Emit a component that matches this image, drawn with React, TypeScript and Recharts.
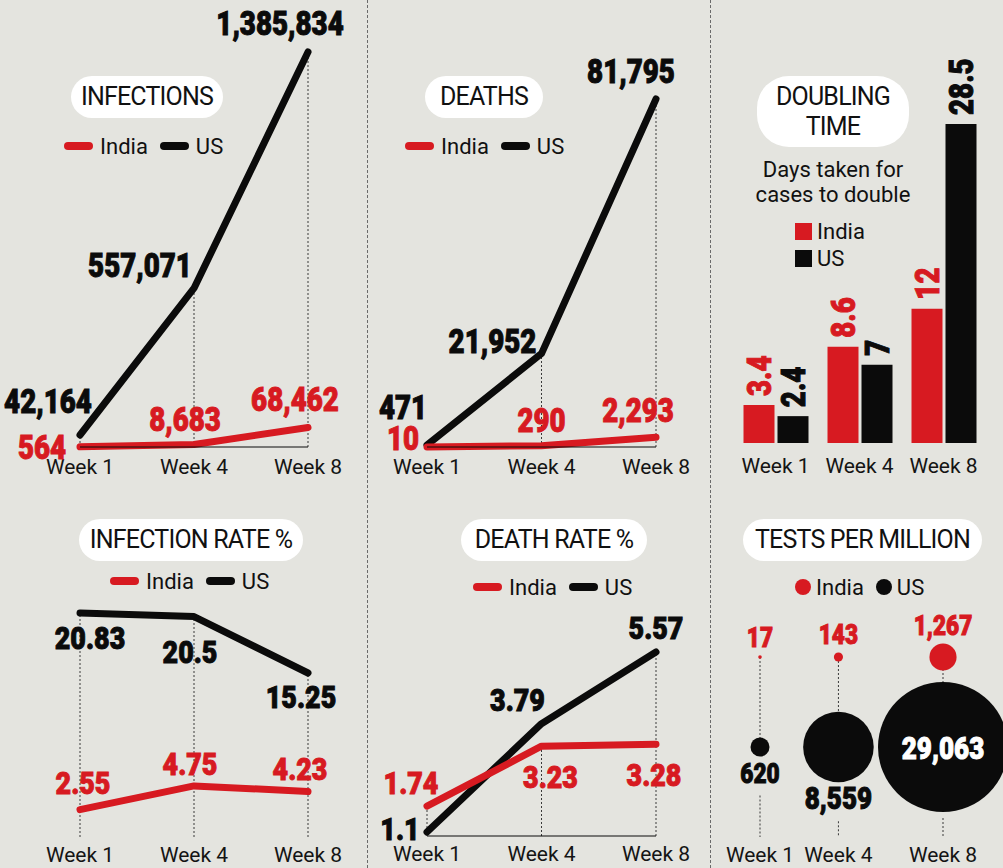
import React from "react";
import {
  LineChart,
  Line,
  BarChart,
  Bar,
  ScatterChart,
  Scatter,
  XAxis,
  YAxis,
  ZAxis,
  ReferenceLine,
  LabelList,
} from "recharts";

const weeks = ["Week 1", "Week 4", "Week 8"];
const weekNumbers = [1, 4, 8];

const indiaInfections = [564, 8683, 68462];
const usInfections = [42164, 557071, 1385834];
const indiaDeaths = [10, 290, 2293];
const usDeaths = [471, 21952, 81795];
const indiaDoubling = [3.4, 8.6, 12];
const usDoubling = [2.4, 7, 28.5];
const indiaInfectionRate = [2.55, 4.75, 4.23];
const usInfectionRate = [20.83, 20.5, 15.25];
const indiaDeathRate = [1.74, 3.23, 3.28];
const usDeathRate = [1.1, 3.79, 5.57];
const indiaTests = [17, 143, 1267];
const usTests = [620, 8559, 29063];

const RED = "#d71a21";
const INK = "#0b0b0b";
const BG = "#e4e4df";
const HEAVY = "Roboto, 'Liberation Sans', sans-serif";
const PLAIN = "Roboto, 'Liberation Sans', sans-serif";
const SQUEEZE = 0.84; // the numbers in the original use a condensed display face

const fmt = (v: number) => v.toLocaleString("en-US", { maximumFractionDigits: 2 });

const toRows = (india: number[], us: number[]) =>
  weeks.map((week, i) => ({ week, india: india[i], us: us[i] }));

const tickStyle = { fill: "#141414", fontSize: 21, fontFamily: PLAIN };

function Num({ x, y, color, size, rotate = 0, anchor = "middle", children }: any) {
  return (
    <text
      transform={`translate(${x},${y}) rotate(${rotate}) scale(${SQUEEZE},1)`}
      textAnchor={anchor}
      fill={color}
      stroke={color}
      strokeWidth={1}
      fontFamily={HEAVY}
      fontWeight={900}
      fontSize={size}
    >
      {children}
    </text>
  );
}

// label offsets from each point: [dx, baseline dy]
const pointLabel = (values: number[], offsets: number[][], color: string, size: number) => (props: any) => {
  const { x, y, value } = props;
  const i = props.index ?? values.indexOf(value);
  const [dx, dy] = offsets[i] || [0, 0];
  return (
    <Num x={x + dx} y={y + dy} color={color} size={size}>
      {fmt(value)}
    </Num>
  );
};

function LinePanel(p: any) {
  const rows = toRows(p.india, p.us);
  return (
    <div style={{ position: "absolute", left: p.left, top: p.top }}>
      <LineChart width={p.width} height={p.height} data={rows} margin={p.margin}>
        <XAxis
          dataKey="week"
          interval={0}
          axisLine={p.axisLine ? { stroke: INK, strokeWidth: 1 } : false}
          tickLine={false}
          tickMargin={p.tickMargin}
          tick={tickStyle}
        />
        <YAxis hide domain={p.domain} />
        {rows.map((r: any, i: number) => (
          <ReferenceLine
            key={r.week}
            segment={[
              { x: r.week, y: p.domain[0] },
              { x: r.week, y: r[p.dropFrom[i]] },
            ]}
            stroke="#3a3a3a"
            strokeDasharray="2 2"
            strokeWidth={1}
          />
        ))}
        <Line
          dataKey="us"
          stroke={INK}
          strokeWidth={7}
          strokeLinecap="round"
          strokeLinejoin="round"
          dot={false}
          isAnimationActive={false}
        >
          <LabelList dataKey="us" content={pointLabel(p.us, p.usOffsets, INK, p.fontSize)} />
        </Line>
        <Line
          dataKey="india"
          stroke={RED}
          strokeWidth={7}
          strokeLinecap="round"
          strokeLinejoin="round"
          dot={false}
          isAnimationActive={false}
        >
          <LabelList dataKey="india" content={pointLabel(p.india, p.indiaOffsets, RED, p.fontSize)} />
        </Line>
      </LineChart>
    </div>
  );
}

function Pill({ left, top, width, height, lines, radius = 21 }: any) {
  return (
    <div
      style={{
        position: "absolute",
        left,
        top,
        width,
        height,
        background: "#fff",
        borderRadius: radius,
        display: "flex",
        flexDirection: "column",
        alignItems: "center",
        justifyContent: "center",
        fontFamily: PLAIN,
        fontSize: 25,
        letterSpacing: -0.8,
        lineHeight: "30px",
        color: "#111",
      }}
    >
      {lines.map((l: string) => (
        <div key={l}>{l}</div>
      ))}
    </div>
  );
}

function Legend({ left, top, kind }: any) {
  const items = [
    ["India", RED],
    ["US", INK],
  ];
  return (
    <div
      style={{
        position: "absolute",
        left,
        top,
        height: 26,
        display: "flex",
        alignItems: "center",
        fontFamily: PLAIN,
        fontSize: 22,
        color: "#111",
        whiteSpace: "nowrap",
      }}
    >
      {items.map(([label, color], i) => (
        <div key={label} style={{ display: "flex", alignItems: "center", marginRight: i === 0 ? 12 : 0 }}>
          <span
            style={
              kind === "line"
                ? { width: 29, height: 8, borderRadius: 4, background: color, marginRight: 7 }
                : { width: 16, height: 16, borderRadius: 8, background: color, marginRight: 5 }
            }
          />
          {label}
        </div>
      ))}
    </div>
  );
}

const barLabel = (color: string) => (props: any) => {
  const { x, y, width, value } = props;
  return (
    <Num x={x + width / 2 + 12} y={y - 9} rotate={-90} anchor="start" color={color} size={33}>
      {fmt(value)}
    </Num>
  );
};

const TESTS_H = 388;
const TESTS_MARGIN = { top: 177, right: 60, bottom: 1, left: 50 };
const TESTS_AXIS_Y = TESTS_H - TESTS_MARGIN.bottom - 30;

const radiusOf = (props: any) =>
  props.width ? props.width / 2 : Math.sqrt((props.size || 0) / Math.PI);

const indiaBubble = (props: any) => {
  const { cx, cy, payload } = props;
  const r = radiusOf(props);
  return (
    <g>
      <circle cx={cx} cy={cy} r={Math.max(r, 1.8)} fill={RED} />
      <Num x={cx} y={cy - r - 8} color={RED} size={27}>
        {fmt(payload.tests)}
      </Num>
    </g>
  );
};

const usBubble = (props: any) => {
  const { cx, cy, payload } = props;
  const r = radiusOf(props);
  const inside = r > 50;
  const size = r > 20 ? 31 : 27;
  const labelY = inside ? cy + 12 : cy + r + 27;
  const lineStart = inside ? cy + r + 6 : labelY + 12;
  return (
    <g>
      <line x1={cx} x2={cx} y1={lineStart} y2={TESTS_AXIS_Y} stroke="#3a3a3a" strokeDasharray="2 2" />
      <circle cx={cx} cy={cy} r={r} fill={INK} />
      <Num x={cx} y={labelY} color={inside ? "#fff" : INK} size={size}>
        {fmt(payload.tests)}
      </Num>
    </g>
  );
};

export default function App() {
  const doublingRows = toRows(indiaDoubling, usDoubling);
  const testsIndia = weekNumbers.map((week, i) => ({ week, row: 1, tests: indiaTests[i] }));
  const testsUs = weekNumbers.map((week, i) => ({ week, row: 0, tests: usTests[i] }));
  const maxTests = Math.max(...usTests, ...indiaTests);

  return (
    <div
      style={{
        position: "absolute",
        left: 0,
        top: 0,
        width: 1003,
        height: 868,
        overflow: "hidden",
        background: BG,
      }}
    >
      <svg width={1003} height={868} style={{ position: "absolute", left: 0, top: 0 }}>
        <line x1={367.5} x2={367.5} y1={0} y2={868} stroke="#6a6a6a" strokeDasharray="3 2" />
        <line x1={710.5} x2={710.5} y1={0} y2={868} stroke="#6a6a6a" strokeDasharray="3 2" />
      </svg>

      {/* Infections */}
      <LinePanel
        left={0}
        top={0}
        width={368}
        height={480}
        margin={{ top: 52, right: 60, bottom: 3, left: 80 }}
        india={indiaInfections}
        us={usInfections}
        domain={[0, Math.max(...usInfections)]}
        dropFrom={["us", "us", "us"]}
        axisLine
        tickMargin={6}
        fontSize={33}
        usOffsets={[[-32, -22], [-54, -11], [-28, -17]]}
        indiaOffsets={[[-38, 12], [-9, -14], [-13, -16]]}
      />
      <Pill left={71} top={76} width={152} height={42} lines={["INFECTIONS"]} />
      <Legend left={64} top={133} kind="line" />

      {/* Deaths */}
      <LinePanel
        left={368}
        top={0}
        width={342}
        height={480}
        margin={{ top: 99, right: 54, bottom: 3, left: 59 }}
        india={indiaDeaths}
        us={usDeaths}
        domain={[0, Math.max(...usDeaths)]}
        dropFrom={["us", "us", "us"]}
        axisLine
        tickMargin={6}
        fontSize={33}
        usOffsets={[[-24, -26], [-49, -1], [-25, -16]]}
        indiaOffsets={[[-24, 3], [0, -14], [-18, -15]]}
      />
      <Pill left={425} top={76} width={118} height={42} lines={["DEATHS"]} />
      <Legend left={405} top={133} kind="line" />

      {/* Doubling time */}
      <div style={{ position: "absolute", left: 710, top: 0 }}>
        <BarChart
          width={293}
          height={480}
          data={doublingRows}
          margin={{ top: 124, right: 17.5, bottom: 7, left: 23.5 }}
          barSize={31}
          barGap={3}
        >
          <XAxis dataKey="week" interval={0} axisLine={false} tickLine={false} tickMargin={9} tick={tickStyle} />
          <YAxis hide domain={[0, Math.max(...usDoubling)]} />
          <Bar dataKey="india" fill={RED} isAnimationActive={false}>
            <LabelList dataKey="india" content={barLabel(RED)} />
          </Bar>
          <Bar dataKey="us" fill={INK} isAnimationActive={false}>
            <LabelList dataKey="us" content={barLabel(INK)} />
          </Bar>
        </BarChart>
      </div>
      <Pill left={757} top={76} width={152} height={71} radius={32} lines={["DOUBLING", "TIME"]} />
      <div
        style={{
          position: "absolute",
          left: 733,
          top: 157,
          width: 200,
          textAlign: "center",
          fontFamily: PLAIN,
          fontSize: 22,
          lineHeight: "25px",
          color: "#111",
        }}
      >
        Days taken for
        <br />
        cases to double
      </div>
      {[
        ["India", RED, 223],
        ["US", INK, 250],
      ].map(([label, color, top]) => (
        <div
          key={label as string}
          style={{
            position: "absolute",
            left: 795,
            top: top as number,
            height: 17,
            display: "flex",
            alignItems: "center",
            fontFamily: PLAIN,
            fontSize: 22,
            color: "#111",
          }}
        >
          <span style={{ width: 17, height: 17, background: color as string, marginRight: 5 }} />
          {label}
        </div>
      ))}

      {/* Infection rate */}
      <LinePanel
        left={0}
        top={480}
        width={368}
        height={388}
        margin={{ top: 133, right: 60, bottom: 1, left: 80 }}
        india={indiaInfectionRate}
        us={usInfectionRate}
        domain={[0, Math.max(...usInfectionRate)]}
        dropFrom={["us", "us", "us"]}
        axisLine={false}
        tickMargin={4}
        fontSize={32}
        usOffsets={[[10, 36], [-4, 46], [-7, 35]]}
        indiaOffsets={[[3, -16], [-4, -11], [-8, -12]]}
      />
      <Pill left={79} top={519} width={224} height={42} lines={["INFECTION RATE %"]} />
      <Legend left={110} top={568} kind="line" />

      {/* Death rate */}
      <LinePanel
        left={368}
        top={480}
        width={342}
        height={388}
        margin={{ top: 172, right: 54, bottom: 2, left: 59 }}
        india={indiaDeathRate}
        us={usDeathRate}
        domain={[1, Math.max(...usDeathRate)]}
        dropFrom={["india", "india", "us"]}
        axisLine
        tickMargin={4}
        fontSize={32}
        usOffsets={[[-27, 8], [-24, -13], [0, -13]]}
        indiaOffsets={[[-16, -12], [9, 42], [-2, 42]]}
      />
      <Pill left={461} top={519} width={186} height={42} lines={["DEATH RATE %"]} />
      <Legend left={473} top={574} kind="line" />

      {/* Tests per million */}
      <div style={{ position: "absolute", left: 710, top: 480 }}>
        <ScatterChart width={293} height={TESTS_H} margin={TESTS_MARGIN}>
          <XAxis
            type="number"
            dataKey="week"
            domain={[1, 8]}
            ticks={weekNumbers}
            tickFormatter={(v: number) => `Week ${v}`}
            axisLine={false}
            tickLine={false}
            tickMargin={4}
            tick={tickStyle}
          />
          <YAxis type="number" dataKey="row" domain={[-1, 1]} hide />
          <ZAxis type="number" dataKey="tests" domain={[0, maxTests]} range={[0, Math.PI * 65 * 65]} />
          {weekNumbers.map((w) => (
            <ReferenceLine
              key={w}
              segment={[
                { x: w, y: 1 },
                { x: w, y: 0 },
              ]}
              stroke="#3a3a3a"
              strokeDasharray="2 2"
            />
          ))}
          <Scatter data={testsUs} shape={usBubble} isAnimationActive={false} />
          <Scatter data={testsIndia} shape={indiaBubble} isAnimationActive={false} />
        </ScatterChart>
      </div>
      <Pill left={743} top={519} width={239} height={42} lines={["TESTS PER MILLION"]} />
      <Legend left={795} top={574} kind="dot" />
    </div>
  );
}
